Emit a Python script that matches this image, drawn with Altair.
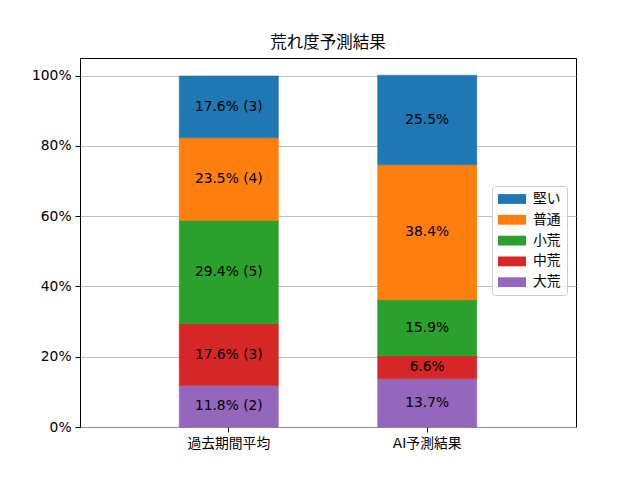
import altair as alt
import pandas as pd

groups = ["過去期間平均", "AI予測結果"]
levels = ["堅い", "普通", "小荒", "中荒", "大荒"]  # legend order (top to bottom)
stack_order = ["大荒", "中荒", "小荒", "普通", "堅い"]  # bottom to top
colors = ["#1f77b4", "#ff7f0e", "#2ca02c", "#d62728", "#9467bd"]

past_pct = [11.8, 17.6, 29.4, 23.5, 17.6]   # 大荒, 中荒, 小荒, 普通, 堅い
past_cnt = [2, 3, 5, 4, 3]
ai_pct = [13.7, 6.6, 15.9, 38.4, 25.5]

rows = []
for i, lv in enumerate(stack_order):
    rows.append({"grp": groups[0], "level": lv, "ord": i, "pct": past_pct[i],
                 "label": f"{past_pct[i]:.1f}% ({past_cnt[i]})"})
    rows.append({"grp": groups[1], "level": lv, "ord": i, "pct": ai_pct[i],
                 "label": f"{ai_pct[i]:.1f}%"})
df = pd.DataFrame(rows)

FONT = "DejaVu Sans, Noto Sans CJK JP"
FS = 13.8

base = alt.Chart(df).transform_stack(
    stack="pct", groupby=["grp"], as_=["y0", "y1"], sort=[alt.SortField("ord", order="ascending")]
).transform_calculate(mid="(datum.y0 + datum.y1) / 2")

x_enc = alt.X("grp:N", sort=groups, title=None,
              scale=alt.Scale(paddingInner=0.5, paddingOuter=0.5),
              axis=alt.Axis(labelAngle=0, labelFontSize=FS, labelColor="black",
                            tickColor="black", tickSize=5, domain=False, labelPadding=4))
y_scale = alt.Scale(domain=[0, 105], nice=False, zero=True)
color_scale = alt.Scale(domain=levels, range=colors)

bars = base.mark_bar(strokeWidth=0.5).encode(
    x=x_enc,
    y=alt.Y("y0:Q", scale=y_scale, title=None,
            axis=alt.Axis(values=[0, 20, 40, 60, 80, 100], labelExpr="datum.value + '%'",
                          labelFontSize=FS, labelColor="black", tickColor="black", tickSize=5,
                          grid=True, gridColor="#b0b0b0", gridWidth=0.8, domain=False,
                          labelPadding=4)),
    y2="y1:Q",
    color=alt.Color("level:N", scale=color_scale,
                    legend=alt.Legend(title=None, orient="none", legendX=412, legendY=128,
                                      symbolType="M-2,-0.7H2V0.7H-2Z", symbolSize=196,
                                      symbolStrokeWidth=0, labelFontSize=FS, labelColor="black",
                                      labelFont=FONT, rowPadding=6.8, padding=6,
                                      fillColor="rgba(255,255,255,0.8)", strokeColor="#cccccc",
                                      cornerRadius=3, symbolOffset=7, labelOffset=14)),
    stroke=alt.Stroke("level:N", scale=color_scale, legend=None),
)

texts = base.mark_text(fontSize=FS, color="black", font=FONT).encode(
    x=alt.X("grp:N", sort=groups),
    y=alt.Y("mid:Q", scale=y_scale),
    text="label:N",
)

chart = alt.layer(bars, texts).properties(
    width=496, height=369,
    title=alt.TitleParams("荒れ度予測結果", fontSize=16.5, fontWeight="normal", font=FONT,
                          color="black", offset=7),
    autosize=alt.AutoSizeParams(type="none"),
    padding={"left": 72, "top": 50, "right": 50, "bottom": 40},
).configure_view(stroke="black", strokeWidth=1).configure_axis(
    labelFont=FONT
)

chart.save("out.html", embed_options={"renderer": "svg", "actions": False})
